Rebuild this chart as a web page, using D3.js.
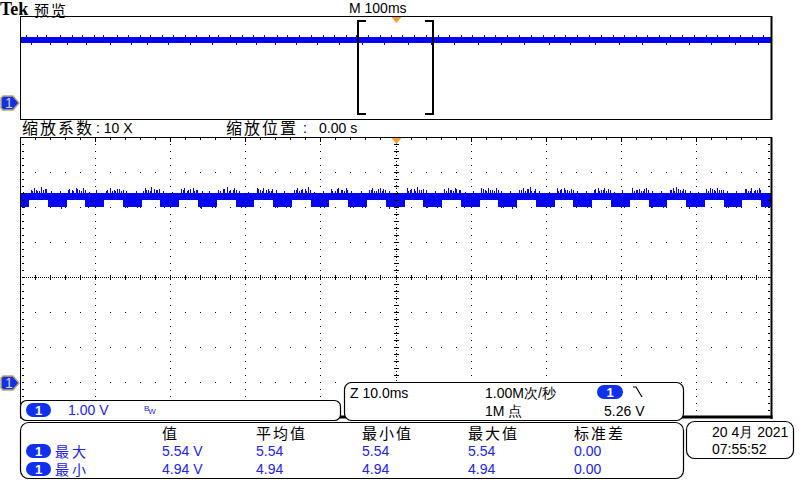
<!DOCTYPE html>
<html><head><meta charset="utf-8">
<script src="https://cdn.jsdelivr.net/npm/d3@7"></script>
<style>
body{margin:0;background:#fff;}
svg{display:block;}
text{font-family:"Liberation Sans",Arial,sans-serif;}
.cjk{font-family:"Noto Sans CJK SC",sans-serif;}
</style></head><body>
<svg id="c" width="800" height="480"></svg>
<script>
// ---------- data ----------
const zoomTimeDomain = [-50, 50];        // ms, 10 ms/div
const overviewTimeDomain = [-500, 500];  // ms, 100 ms/div
const voltDomain = [-1, 7];              // V, 1 V/div
const overviewVoltDomain = [-1.333, 7.25];

const lowStarts = [-51.3, -46.3, -41.3, -36.3, -31.3, -26.3, -21.3, -16.3, -11.3, -6.3, -1.3,
                   3.7, 8.7, 13.7, 18.7, 23.7, 28.7, 33.7, 38.7, 43.7, 48.7];
const lowDuration = 2.5;
const highBand = [5.19, 5.40];
const lowBand = [5.01, 5.40];

const spikeT = [-48.6,-48.1,-47.7,-47.2,-46.7, -43.5,-43.1,-42.6,-42.2,-41.6, -38.6,-38.0,-37.5,-37.1,-36.5,
  -33.4,-33.0,-32.5,-31.9,-31.5, -28.5,-28.1,-27.6,-27.0,-26.6, -23.6,-23.0,-22.5,-22.0,-21.5,
  -18.5,-18.0,-17.6,-17.0,-16.6, -13.5,-13.1,-12.6,-12.1,-11.6, -8.6,-8.0,-7.6,-7.1,-6.6,
  -3.5,-3.1,-2.6,-2.0,-1.6, 1.5,1.9,2.4,2.9,3.4, 6.5,7.0,7.4,7.9,8.4, 11.4,11.9,12.3,12.9,13.4,
  16.5,17.0,17.5,17.9,18.4, 21.5,21.9,22.4,22.9,23.4, 26.4,26.9,27.4,27.8,28.3,
  31.5,32.0,32.4,32.9,33.4, 36.5,36.9,37.4,37.9,38.3, 41.4,41.9,42.4,42.8,43.4, 46.5,47.0,47.4,47.9,48.4];
const spikeV = [5.49,5.54,5.47,5.56,5.51, 5.52,5.48,5.55,5.50,5.53, 5.47,5.55,5.49,5.52,5.46,
  5.54,5.50,5.56,5.48,5.52, 5.51,5.55,5.48,5.53,5.49, 5.48,5.52,5.57,5.50,5.54,
  5.53,5.49,5.55,5.51,5.47, 5.50,5.55,5.48,5.52,5.56, 5.52,5.47,5.54,5.50,5.55,
  5.49,5.53,5.47,5.55,5.51, 5.54,5.49,5.52,5.56,5.48, 5.51,5.55,5.48,5.53,5.50, 5.55,5.50,5.53,5.48,5.54,
  5.49,5.54,5.51,5.56,5.47, 5.53,5.48,5.55,5.50,5.52, 5.50,5.54,5.48,5.55,5.51,
  5.55,5.49,5.52,5.47,5.54, 5.48,5.53,5.56,5.50,5.52, 5.52,5.55,5.49,5.54,5.48, 5.51,5.47,5.54,5.50,5.53];

const spikeT2 = [-48.4,-47.9,-47.5,-46.9,-46.5, -43.6,-42.9,-42.4,-41.9,-41.4, -38.4,-37.8,-37.3,-36.8,-36.3,
  -33.6,-33.2,-32.7,-32.2,-31.7, -28.3,-27.8,-27.3,-26.8,-26.4, -23.4,-22.8,-22.2,-21.7,-21.3,
  -18.3,-17.8,-17.3,-16.8,-16.4, -13.3,-12.8,-12.4,-11.9,-11.4, -8.4,-7.8,-7.3,-6.9,-6.4,
  -3.3,-2.8,-2.3,-1.8,-1.4, 1.7,2.1,2.6,3.1,3.6, 6.7,7.2,7.7,8.1,8.6, 11.6,12.1,12.6,13.1,13.6,
  16.7,17.2,17.7,18.1,18.6, 21.7,22.1,22.6,23.1,23.6, 26.6,27.1,27.6,28.0,28.5,
  31.7,32.2,32.7,33.1,33.6, 36.7,37.1,37.6,38.1,38.5, 41.6,42.1,42.6,43.1,43.6, 46.7,47.2,47.7,48.1,48.6];
const spikeV2 = [5.47,5.50,5.46,5.49,5.52, 5.48,5.46,5.51,5.47,5.49, 5.50,5.47,5.46,5.52,5.48,
  5.46,5.49,5.47,5.51,5.48, 5.49,5.46,5.52,5.47,5.50, 5.47,5.51,5.46,5.49,5.48,
  5.51,5.47,5.49,5.46,5.52, 5.49,5.47,5.51,5.46,5.49, 5.47,5.52,5.49,5.46,5.50,
  5.49,5.46,5.51,5.47,5.49, 5.46,5.51,5.47,5.49,5.52, 5.47,5.49,5.46,5.51,5.48, 5.51,5.47,5.49,5.46,5.49,
  5.49,5.46,5.51,5.47,5.52, 5.47,5.51,5.49,5.46,5.49, 5.51,5.47,5.49,5.46,5.50,
  5.47,5.49,5.46,5.52,5.49, 5.49,5.47,5.51,5.46,5.49, 5.46,5.51,5.47,5.49,5.48, 5.51,5.47,5.46,5.49,5.50];

const lowTopT = [-50.9,-49.6,-45.9,-44.7,-40.8,-39.9,-35.9,-34.6,-30.9,-29.7,-25.8,-24.8,-20.9,-19.6,
  -15.9,-14.8,-10.8,-9.7,-5.9,-4.6,-0.9,0.2,4.1,5.3,9.2,10.3,14.1,15.3,19.1,20.4,24.2,25.3,29.1,30.2,
  34.1,35.3,39.2,40.3,44.1,45.3];
const lowTopV = [5.46,5.44,5.47,5.45,5.44,5.48,5.45,5.46,5.47,5.44,5.45,5.47,5.46,5.44,5.48,5.45,5.44,
  5.46,5.47,5.45,5.46,5.44,5.48,5.45,5.44,5.47,5.45,5.46,5.47,5.44,5.46,5.45,5.44,5.48,5.45,5.46,
  5.47,5.44,5.45,5.46];

const dipT = [-49.5,-45.8,-44.6,-40.9,-39.5,-35.7,-34.4,-30.8,-29.6,-25.9,-24.5,-20.6,-19.4,-15.8,-14.6,
  -10.9,-9.5,-5.7,-4.4,-0.8,0.4,4.2,5.5,9.1,10.4,14.3,15.5,19.2,20.6,24.1,25.5,29.3,30.4,34.2,35.6,
  39.1,40.5,44.3,45.4,49.2];
const dipV = [4.97,4.99,4.95,4.98,5.00,4.96,4.98,4.97,4.99,4.95,4.98,4.97,5.00,4.96,4.98,4.99,4.96,
  4.97,4.98,4.95,4.99,4.97,4.96,4.98,5.00,4.97,4.95,4.99,4.98,4.96,4.97,4.99,4.96,4.98,4.97,4.95,
  4.99,4.98,4.96,4.97];

const overviewBand = [4.97, 5.53];
const ovUpT = [-492,-478,-465,-447,-431,-418,-402,-389,-371,-356,-340,-327,-311,-296,-280,-266,-249,
  -236,-221,-204,-190,-175,-158,-144,-128,-113,-97,-82,-66,-52,-37,-21,-6,9,25,40,56,71,87,102,118,
  133,149,164,180,196,211,226,242,257,273,289,304,320,335,351,366,382,397,413,428,444,459,475,490];
const ovDownT = [-485,-460,-438,-412,-380,-352,-331,-303,-274,-245,-212,-186,-160,-133,-104,-75,-44,
  -15,16,47,78,110,140,171,205,233,265,297,328,360,391,420,452,483];
const ovUpLevel = 5.66, ovDownLevel = 4.85;

const topLabels = {tek: "Tek", mode: "预览", horiz: "M 100ms"};
const zoomLabels = ["缩放系数", ": 10 X", "缩放位置", ":", "0.00 s"];
const chLabels = ["1.00 V", "B", "W"];
const acqLabels = ["Z 10.0ms", "1.00M次/秒", "1M 点", "5.26 V"];
const measHeaders = ["值", "平均值", "最小值", "最大值", "标准差"];
const measRowLabels = ["最大", "最小"];
const measValues = [["5.54 V", "5.54", "5.54", "5.54", "0.00"],
                    ["4.94 V", "4.94", "4.94", "4.94", "0.00"]];
const dateLabels = ["20 4月 2021", "07:55:52"];

// ---------- drawing ----------
const TRACE = "#0505f2", BLUE_TXT = "#2222ee", PILL = "#1030f0", ORANGE = "#f5a030";
const svg = d3.select("#c");
svg.append("rect").attr("width", 800).attr("height", 480).attr("fill", "#fff");

const L = 20, R = 771, MT = 137, MB = 417, OT = 16, OB = 119;
const x = d3.scaleLinear(zoomTimeDomain, [L, R]);
const y = d3.scaleLinear(voltDomain, [MB, MT]);
const ovX = d3.scaleLinear(overviewTimeDomain, [L, R]);
const ovY = d3.scaleLinear(overviewVoltDomain, [OB, OT]);

const defs = svg.append("defs");
defs.append("clipPath").attr("id", "cm").append("rect").attr("x", L).attr("y", MT).attr("width", R - L).attr("height", MB - MT);
defs.append("clipPath").attr("id", "co").append("rect").attr("x", L).attr("y", OT).attr("width", R - L).attr("height", OB - OT);

// ----- overview panel -----
const og = svg.append("g").attr("clip-path", "url(#co)").attr("shape-rendering", "crispEdges");
og.append("rect").attr("x", ovX(-500)).attr("width", ovX(500) - ovX(-500))
  .attr("y", ovY(overviewBand[1])).attr("height", ovY(overviewBand[0]) - ovY(overviewBand[1])).attr("fill", TRACE);
og.selectAll("line.u").data(ovUpT).join("line").attr("x1", d => Math.round(ovX(d)) + 0.5).attr("x2", d => Math.round(ovX(d)) + 0.5)
  .attr("y1", ovY(overviewBand[1])).attr("y2", ovY(ovUpLevel)).attr("stroke", TRACE).attr("stroke-width", 1.5);
og.selectAll("line.d").data(ovDownT).join("line").attr("x1", d => Math.round(ovX(d)) + 0.5).attr("x2", d => Math.round(ovX(d)) + 0.5)
  .attr("y1", ovY(overviewBand[0])).attr("y2", ovY(ovDownLevel)).attr("stroke", TRACE).attr("stroke-width", 1.5);
svg.append("rect").attr("x", L + 0.5).attr("y", OT + 0.5).attr("width", R - L).attr("height", OB - OT)
  .attr("fill", "none").attr("stroke", "#000").attr("stroke-width", 1).attr("shape-rendering", "crispEdges");
svg.append("line").attr("x1", R + 0.5).attr("x2", R + 0.5).attr("y1", OT).attr("y2", OB + 1).attr("stroke", "#000").attr("stroke-width", 2);

[[zoomTimeDomain[0], 1], [zoomTimeDomain[1], -1]].forEach(([t, dir]) => {
  const bx = Math.round(ovX(t));
  svg.append("path").attr("d", `M${bx + dir * 8},21 H${bx} V114 H${bx + dir * 8}`)
    .attr("fill", "none").attr("stroke", "#000").attr("stroke-width", 2).attr("shape-rendering", "crispEdges");
});
function trig(cx, top) {
  svg.append("path").attr("d", `M${cx - 5},${top} L${cx + 5},${top} L${cx},${top + 6} Z`).attr("fill", ORANGE);
}
trig(Math.round(ovX(0)) + 0.5, OT + 1);

// header texts
svg.append("text").attr("x", 0).attr("y", 15).attr("font-weight", "bold")
  .attr("font-size", 18).style("font-family", "'Liberation Serif',serif").text(topLabels.tek);
svg.append("text").attr("class", "cjk").attr("x", 34).attr("y", 16).attr("font-size", 15).attr("letter-spacing", 2).text(topLabels.mode);
svg.append("text").attr("x", 349).attr("y", 13).attr("font-size", 14).text(topLabels.horiz);

// zoom label row
svg.append("text").attr("class", "cjk").attr("x", 22).attr("y", 134).attr("font-size", 16).attr("letter-spacing", 2).text(zoomLabels[0]);
svg.append("text").attr("x", 96).attr("y", 133).attr("font-size", 14).text(zoomLabels[1]);
svg.append("text").attr("class", "cjk").attr("x", 226).attr("y", 134).attr("font-size", 16).attr("letter-spacing", 2).text(zoomLabels[2]);
svg.append("text").attr("x", 303).attr("y", 133).attr("font-size", 14).text(zoomLabels[3]);
svg.append("text").attr("x", 319).attr("y", 133).attr("font-size", 14).text(zoomLabels[4]);

// ----- main panel trace -----
const mg = svg.append("g").attr("clip-path", "url(#cm)").attr("shape-rendering", "crispEdges");
lowStarts.forEach(s => {
  mg.append("rect").attr("x", x(s)).attr("width", x(s + lowDuration) - x(s))
    .attr("y", y(lowBand[1])).attr("height", y(lowBand[0]) - y(lowBand[1])).attr("fill", TRACE);
  mg.append("rect").attr("x", x(s + lowDuration)).attr("width", x(s + 2 * lowDuration) - x(s + lowDuration))
    .attr("y", y(highBand[1])).attr("height", y(highBand[0]) - y(highBand[1])).attr("fill", TRACE);
});
function spikes(ts, vs, base, w) {
  mg.append("g").selectAll("line").data(ts).join("line")
    .attr("x1", d => Math.round(x(d)) + 0.5).attr("x2", d => Math.round(x(d)) + 0.5)
    .attr("y1", y(base)).attr("y2", (d, i) => y(vs[i])).attr("stroke", TRACE).attr("stroke-width", w);
}
spikes(spikeT, spikeV, highBand[1], 1.6);
spikes(spikeT2, spikeV2, highBand[1], 1.4);
spikes(lowTopT, lowTopV, lowBand[1], 1.4);
spikes(dipT, dipV, lowBand[0], 1.6);

// ----- graticule -----
const gg = svg.append("g").attr("shape-rendering", "crispEdges").attr("fill", "#000");
const majT = d3.range(1, 10).map(i => zoomTimeDomain[0] + i * 10);
const majV = d3.range(1, 8).map(i => voltDomain[0] + i);
const minT = d3.range(0, 51).map(i => zoomTimeDomain[0] + i * 2);
const minV = d3.range(0, 41).map(i => voltDomain[0] + i * 0.2);
const cx0 = Math.round(x(0)), cy0 = Math.round(y(3));
majT.filter(t => t !== 0).forEach(t => {
  minV.forEach(v => gg.append("rect").attr("x", Math.round(x(t))).attr("y", Math.round(y(v))).attr("width", 1).attr("height", 1));
});
majV.filter(v => v !== 3).forEach(v => {
  minT.forEach(t => gg.append("rect").attr("x", Math.round(x(t))).attr("y", Math.round(y(v))).attr("width", 1).attr("height", 1));
});
gg.append("line").attr("x1", cx0 + 0.5).attr("x2", cx0 + 0.5).attr("y1", MT).attr("y2", MB).attr("stroke", "#000").attr("stroke-dasharray", "1,2");
gg.append("line").attr("y1", cy0 + 0.5).attr("y2", cy0 + 0.5).attr("x1", L).attr("x2", R).attr("stroke", "#000").attr("stroke-dasharray", "1,1");
minV.forEach(v => gg.append("rect").attr("x", cx0 - 2).attr("y", Math.round(y(v))).attr("width", 5).attr("height", 1));
minT.forEach(t => gg.append("rect").attr("x", Math.round(x(t))).attr("y", cy0 - 2).attr("width", 1).attr("height", 5));
minT.forEach(t => gg.append("rect").attr("x", Math.round(x(t))).attr("y", MT + 1).attr("width", 1).attr("height", 2));
minV.forEach(v => {
  gg.append("rect").attr("x", L + 2).attr("y", Math.round(y(v))).attr("width", 2).attr("height", 1);
  gg.append("rect").attr("x", R - 3).attr("y", Math.round(y(v))).attr("width", 2).attr("height", 1);
});
majT.forEach(t => gg.append("rect").attr("x", Math.round(x(t))).attr("y", MT + 1).attr("width", 1).attr("height", 4));
svg.append("line").attr("x1", L).attr("x2", R + 1).attr("y1", MT + 0.5).attr("y2", MT + 0.5).attr("stroke", "#000");
svg.append("line").attr("x1", L + 0.5).attr("x2", L + 0.5).attr("y1", MT).attr("y2", MB).attr("stroke", "#000");
svg.append("line").attr("x1", R + 0.5).attr("x2", R + 0.5).attr("y1", MT).attr("y2", MB + 2).attr("stroke", "#000").attr("stroke-width", 2);
svg.append("line").attr("x1", L).attr("x2", R + 1.5).attr("y1", MB).attr("y2", MB).attr("stroke", "#000").attr("stroke-width", 3);
trig(cx0 + 0.5, MT + 1);

function chMarker(cy) {
  const g = svg.append("g");
  g.append("path").attr("d", `M3,${cy - 7} H13 L19,${cy} L13,${cy + 7} H3 L1,${cy + 5} V${cy - 5} Z`)
    .attr("fill", PILL).attr("stroke", "#b8a868").attr("stroke-width", 1.5);
  g.append("text").attr("x", 9).attr("y", cy + 5).attr("text-anchor", "middle").attr("font-size", 14)
    .attr("fill", "#d8d2b8").text("1");
}
chMarker(Math.round(ovY(0)));
chMarker(Math.round(y(0)) + 1);

// ----- info boxes -----
function box(bx, by, w, h, r) {
  svg.append("rect").attr("x", bx + 0.5).attr("y", by + 0.5).attr("width", w).attr("height", h).attr("rx", r)
    .attr("fill", "#fff").attr("stroke", "#000").attr("stroke-width", 1.2);
}
function pill(px, py, w, h) {
  svg.append("rect").attr("x", px).attr("y", py).attr("width", w).attr("height", h).attr("rx", h / 2).attr("fill", PILL);
  svg.append("text").attr("x", px + w / 2).attr("y", py + h - 2.5).attr("text-anchor", "middle").attr("font-size", 13)
    .attr("font-weight", "bold").attr("fill", "#fff").text("1");
}
box(20, 400, 320, 20, 6);
pill(26, 403, 25, 14);
svg.append("text").attr("x", 68).attr("y", 415).attr("font-size", 14).attr("fill", BLUE_TXT).text(chLabels[0]);
const bw = svg.append("text").attr("x", 144).attr("y", 411).attr("font-size", 8).attr("fill", BLUE_TXT);
bw.append("tspan").text(chLabels[1]);
bw.append("tspan").attr("dx", -1).attr("dy", 3).text(chLabels[2]);

box(344, 382, 339, 38, 7);
svg.append("text").attr("x", 350).attr("y", 398).attr("font-size", 14).text(acqLabels[0]);
svg.append("text").attr("x", 485).attr("y", 398).attr("font-size", 14).text(acqLabels[1]);
pill(597, 385, 26, 14);
svg.append("path").attr("d", "M633,387 H636 L642,397").attr("fill", "none").attr("stroke", "#000").attr("stroke-width", 1.2);
svg.append("text").attr("x", 485).attr("y", 416).attr("font-size", 14).text(acqLabels[2]);
svg.append("text").attr("x", 604).attr("y", 416).attr("font-size", 14).text(acqLabels[3]);

box(20, 422, 663, 56, 8);
const colX = [162, 256, 362, 468, 574];
measHeaders.forEach((h, i) => svg.append("text").attr("class", "cjk").attr("x", colX[i]).attr("y", 439)
  .attr("font-size", 15).attr("letter-spacing", 2).text(h));
const rowY = [456, 474];
measRowLabels.forEach((lab, r) => {
  pill(26, rowY[r] - 12, 25, 14);
  svg.append("text").attr("class", "cjk").attr("x", 55).attr("y", rowY[r] + 1).attr("font-size", 14)
    .attr("letter-spacing", 3).attr("fill", BLUE_TXT).text(lab);
  measValues[r].forEach((v, i) => svg.append("text").attr("x", colX[i]).attr("y", rowY[r]).attr("font-size", 14)
    .attr("fill", BLUE_TXT).text(v));
});

box(686, 421, 107, 37, 8);
svg.append("text").attr("x", 712).attr("y", 437).attr("font-size", 14).text(dateLabels[0]);
svg.append("text").attr("x", 712).attr("y", 454).attr("font-size", 14).text(dateLabels[1]);
</script>
</body></html>
